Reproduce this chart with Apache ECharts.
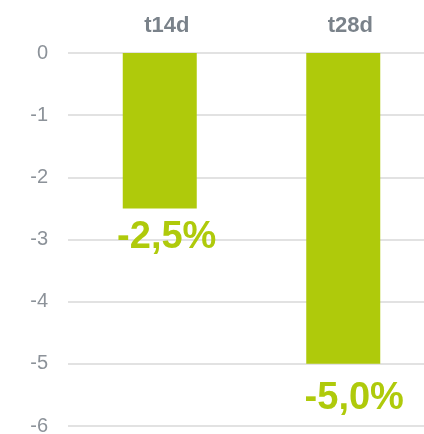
<!DOCTYPE html>
<html><head><meta charset="utf-8">
<script src="https://cdn.jsdelivr.net/npm/echarts@6/dist/echarts.min.js"></script>
<style>html,body{margin:0;padding:0;background:#fff}#c{width:424px;height:434px}</style>
</head><body><div id="c"></div>
<script>
var categories = ['t14d', 't28d'];
var values = [-2.5, -5.0];
var valueLabels = ['-2,5%', '-5,0%'];
var yTicks = [0, -1, -2, -3, -4, -5, -6];

var chart = echarts.init(document.getElementById('c'), null, {renderer: 'canvas'});
var labelShift = [[7, 0], [11, 6]];
chart.setOption({
  animation: false,
  grid: {left: 68, width: 367, top: 53, bottom: 8, containLabel: false, outerBoundsMode: 'none'},
  xAxis: {
    type: 'category', position: 'top', data: categories,
    axisLine: {show: false}, axisTick: {show: false},
    axisLabel: {color: '#7a828a', fontSize: 22, fontWeight: 'bold', fontFamily: 'Liberation Sans, Arial, sans-serif', margin: 16, padding: [0, 0, 0, 14]}
  },
  yAxis: {
    type: 'value', min: -6, max: 0, interval: 1,
    axisLine: {show: false}, axisTick: {show: false},
    axisLabel: {color: '#8c9299', fontSize: 20, fontFamily: 'Liberation Sans, Arial, sans-serif', margin: 20,
      formatter: function (v) { return yTicks.indexOf(v) >= 0 ? String(v) : ''; }},
    splitLine: {lineStyle: {color: '#d9d9d9', width: 1.5}}
  },
  series: [{
    type: 'bar', barWidth: 74,
    data: values.map(function (v, i) { return {value: v, label: {formatter: valueLabels[i], offset: labelShift[i]}}; }),
    itemStyle: {color: '#afca0b'},
    label: {show: true, position: 'bottom', distance: 10, color: '#afca0b', fontSize: 38, fontWeight: 'bold', fontFamily: 'Liberation Sans, Arial, sans-serif'}
  }]
});
</script></body></html>
